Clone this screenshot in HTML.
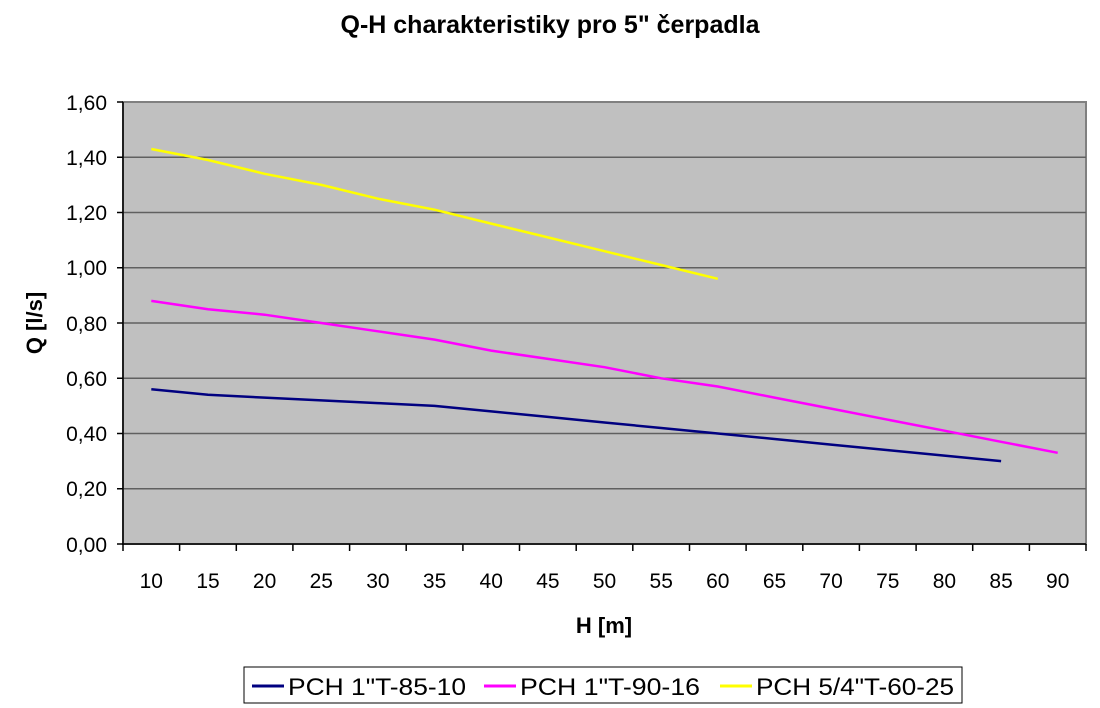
<!DOCTYPE html>
<html><head><meta charset="utf-8"><style>html,body{margin:0;padding:0;background:#fff}svg{display:block}</style></head>
<body>
<svg width="1100" height="708" xmlns="http://www.w3.org/2000/svg" font-family="Liberation Sans, Arial, sans-serif">
<rect width="1100" height="708" fill="#fff"/>
<text x="550" y="33" text-anchor="middle" font-size="25" font-weight="bold">Q-H charakteristiky pro 5" čerpadla</text>
<rect x="123" y="102" width="963" height="442" fill="#c0c0c0" stroke="#808080" stroke-width="2"/>
<g stroke="#606060" stroke-width="1.5">
<line x1="123" y1="157.25" x2="1086" y2="157.25"/>
<line x1="123" y1="212.5" x2="1086" y2="212.5"/>
<line x1="123" y1="267.75" x2="1086" y2="267.75"/>
<line x1="123" y1="323" x2="1086" y2="323"/>
<line x1="123" y1="378.25" x2="1086" y2="378.25"/>
<line x1="123" y1="433.5" x2="1086" y2="433.5"/>
<line x1="123" y1="488.75" x2="1086" y2="488.75"/>
</g>
<g stroke="#000" stroke-width="1.5">
<line x1="123" y1="102" x2="123" y2="545"/>
<line x1="122" y1="544" x2="1086" y2="544"/>
<line x1="117" y1="102" x2="123" y2="102"/><line x1="117" y1="157.25" x2="123" y2="157.25"/><line x1="117" y1="212.5" x2="123" y2="212.5"/><line x1="117" y1="267.75" x2="123" y2="267.75"/><line x1="117" y1="323" x2="123" y2="323"/><line x1="117" y1="378.25" x2="123" y2="378.25"/><line x1="117" y1="433.5" x2="123" y2="433.5"/><line x1="117" y1="488.75" x2="123" y2="488.75"/><line x1="117" y1="544" x2="123" y2="544"/>
<line x1="123" y1="544" x2="123" y2="551"/><line x1="179.6" y1="544" x2="179.6" y2="551"/><line x1="236.3" y1="544" x2="236.3" y2="551"/><line x1="292.9" y1="544" x2="292.9" y2="551"/><line x1="349.6" y1="544" x2="349.6" y2="551"/><line x1="406.2" y1="544" x2="406.2" y2="551"/><line x1="462.9" y1="544" x2="462.9" y2="551"/><line x1="519.5" y1="544" x2="519.5" y2="551"/><line x1="576.2" y1="544" x2="576.2" y2="551"/><line x1="632.8" y1="544" x2="632.8" y2="551"/><line x1="689.5" y1="544" x2="689.5" y2="551"/><line x1="746.1" y1="544" x2="746.1" y2="551"/><line x1="802.8" y1="544" x2="802.8" y2="551"/><line x1="859.4" y1="544" x2="859.4" y2="551"/><line x1="916.1" y1="544" x2="916.1" y2="551"/><line x1="972.7" y1="544" x2="972.7" y2="551"/><line x1="1029.4" y1="544" x2="1029.4" y2="551"/><line x1="1086" y1="544" x2="1086" y2="551"/>
</g>
<g font-size="21" text-anchor="end">
<text x="107" y="110">1,60</text><text x="107" y="165">1,40</text><text x="107" y="220">1,20</text><text x="107" y="275">1,00</text><text x="107" y="331">0,80</text><text x="107" y="386">0,60</text><text x="107" y="441">0,40</text><text x="107" y="496">0,20</text><text x="107" y="552">0,00</text>
</g>
<g font-size="21" text-anchor="middle">
<text x="151.3" y="588">10</text><text x="208" y="588">15</text><text x="264.6" y="588">20</text><text x="321.3" y="588">25</text><text x="377.9" y="588">30</text><text x="434.6" y="588">35</text><text x="491.2" y="588">40</text><text x="547.9" y="588">45</text><text x="604.5" y="588">50</text><text x="661.2" y="588">55</text><text x="717.8" y="588">60</text><text x="774.5" y="588">65</text><text x="831.1" y="588">70</text><text x="887.8" y="588">75</text><text x="944.4" y="588">80</text><text x="1001.1" y="588">85</text><text x="1057.7" y="588">90</text>
</g>
<text x="604" y="633" text-anchor="middle" font-size="22" font-weight="bold">H [m]</text>
<text transform="translate(42 323) rotate(-90)" text-anchor="middle" font-size="22" font-weight="bold">Q [l/s]</text>
<polyline fill="none" stroke="#ffff00" stroke-width="2.5" points="151.3,149 208,160 264.6,173.8 321.3,184.9 377.9,198.7 434.6,209.7 491.2,223.6 547.9,237.4 604.5,251.2 661.2,265 717.8,278.8"/>
<polyline fill="none" stroke="#ff00ff" stroke-width="2.5" points="151.3,300.9 208,309.2 264.6,314.7 321.3,323 377.9,331.3 434.6,339.6 491.2,350.6 547.9,358.9 604.5,367.2 661.2,378.3 717.8,386.5 774.5,397.6 831.1,408.6 887.8,419.7 944.4,430.7 1001.1,441.8 1057.7,452.8"/>
<polyline fill="none" stroke="#000080" stroke-width="2.5" points="151.3,389.3 208,394.8 264.6,397.6 321.3,400.4 377.9,403.1 434.6,405.9 491.2,411.4 547.9,416.9 604.5,422.5 661.2,428 717.8,433.5 774.5,439 831.1,444.6 887.8,450.1 944.4,455.6 1001.1,461.1"/>
<rect x="244" y="667" width="718" height="36" fill="#fff" stroke="#000" stroke-width="1"/>
<line x1="252" y1="686" x2="284" y2="686" stroke="#000080" stroke-width="3"/>
<text x="288" y="695" font-size="24" textLength="178" lengthAdjust="spacingAndGlyphs">PCH 1"T-85-10</text>
<line x1="484" y1="686" x2="516" y2="686" stroke="#ff00ff" stroke-width="3"/>
<text x="520" y="695" font-size="24" textLength="180" lengthAdjust="spacingAndGlyphs">PCH 1"T-90-16</text>
<line x1="720" y1="686" x2="752" y2="686" stroke="#ffff00" stroke-width="3"/>
<text x="756" y="695" font-size="24" textLength="198" lengthAdjust="spacingAndGlyphs">PCH 5/4"T-60-25</text>
</svg>
</body></html>
